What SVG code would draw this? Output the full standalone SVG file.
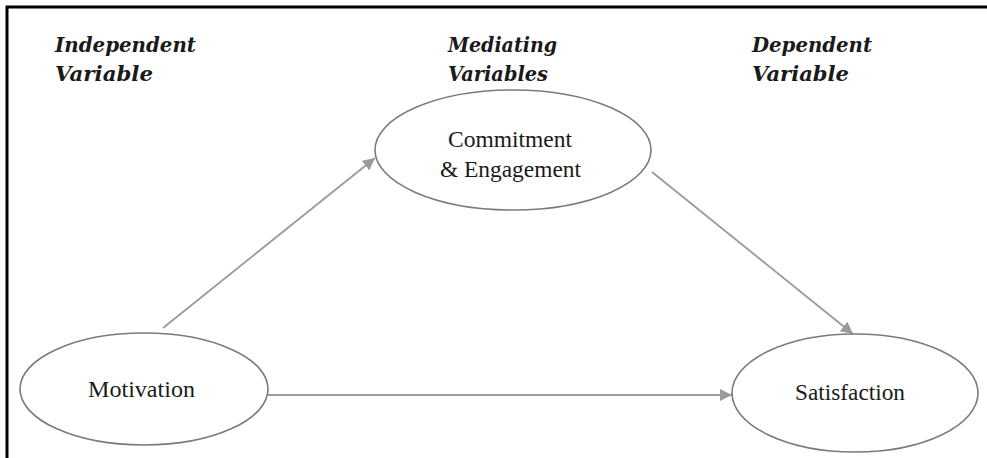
<svg xmlns="http://www.w3.org/2000/svg" width="987" height="458" viewBox="0 0 987 458">
<defs>
<style>
.head{font-family:"DejaVu Serif","Liberation Serif",serif;font-weight:bold;font-style:italic;font-size:21px;fill:#1a1a1a}
.lbl{font-family:"Liberation Serif","DejaVu Serif",serif;font-size:23px;fill:#1a1a1a}
.node{fill:#fff;stroke:#7a7a7a;stroke-width:1.6}
.edge{stroke:#9a9a9a;stroke-width:1.8;fill:none;marker-end:url(#ah)}
</style>
<marker id="ah" viewBox="0 0 10 10" refX="10" refY="5" markerWidth="16" markerHeight="12" markerUnits="userSpaceOnUse" orient="auto">
<path d="M0,0 L10,5 L0,10 Z" fill="#9a9a9a"/>
</marker>
</defs>
<rect width="987" height="458" fill="#fff"/>
<path d="M7,458 V7 H987" fill="none" stroke="#000" stroke-width="3"/>
<g id="headings">
<text class="head" x="55" y="52" textLength="141" lengthAdjust="spacingAndGlyphs">Independent</text>
<text class="head" x="55" y="81" textLength="98" lengthAdjust="spacingAndGlyphs">Variable</text>
<text class="head" x="448" y="52" textLength="109" lengthAdjust="spacingAndGlyphs">Mediating</text>
<text class="head" x="448" y="81" textLength="100" lengthAdjust="spacingAndGlyphs">Variables</text>
<text class="head" x="752" y="52" textLength="120" lengthAdjust="spacingAndGlyphs">Dependent</text>
<text class="head" x="752" y="81" textLength="97" lengthAdjust="spacingAndGlyphs">Variable</text>
</g>
<g id="connectors">
<line class="edge" x1="163" y1="328" x2="375" y2="158"/>
<line class="edge" x1="652" y1="172" x2="853" y2="334"/>
<line class="edge" x1="268" y1="395" x2="732" y2="395"/>
</g>
<g id="motivation">
<ellipse class="node" cx="144" cy="389" rx="124" ry="56"/>
<text class="lbl" x="88" y="397" textLength="107" lengthAdjust="spacingAndGlyphs">Motivation</text>
</g>
<g id="commitment">
<ellipse class="node" cx="513" cy="150" rx="138" ry="60"/>
<text class="lbl" x="448" y="147" textLength="124" lengthAdjust="spacingAndGlyphs">Commitment</text>
<text class="lbl" x="440" y="177" textLength="141" lengthAdjust="spacingAndGlyphs">&amp; Engagement</text>
</g>
<g id="satisfaction">
<ellipse class="node" cx="855" cy="393" rx="123" ry="59"/>
<text class="lbl" x="795" y="400" textLength="110" lengthAdjust="spacingAndGlyphs">Satisfaction</text>
</g>
</svg>
